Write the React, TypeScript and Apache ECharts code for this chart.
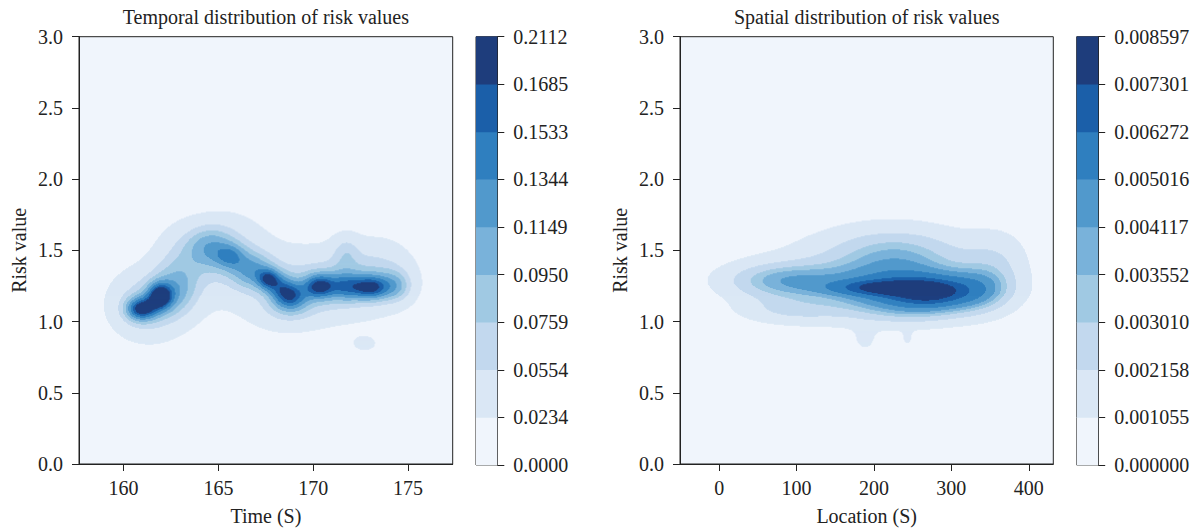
import React, { useEffect, useRef } from "react";
import * as echarts from "echarts";

// ---------- data ----------
const temporalLevels = [0, 0.0234, 0.0554, 0.0759, 0.095, 0.1149, 0.1344, 0.1533, 0.1685, 0.2112];
const temporalLevelLabels = ["0.0000", "0.0234", "0.0554", "0.0759", "0.0950", "0.1149", "0.1344", "0.1533", "0.1685", "0.2112"];
const spatialLevels = [0, 0.001055, 0.002158, 0.00301, 0.003552, 0.004117, 0.005016, 0.006272, 0.007301, 0.008597];
const spatialLevelLabels = ["0.000000", "0.001055", "0.002158", "0.003010", "0.003552", "0.004117", "0.005016", "0.006272", "0.007301", "0.008597"];

const riskTicks = [0, 0.5, 1.0, 1.5, 2.0, 2.5, 3.0];
const timeTicks = [160, 165, 170, 175];
const locationTicks = [0, 100, 200, 300, 400];

// kernel-density components (centre x, centre y, peak density, spread x, spread y)
const temporalCx = [168, 161.2, 160.9, 161.9, 162.8, 162.9, 164.5, 165.6, 166.8, 167.6, 168.2, 168.8, 170.3, 171.6, 173.0, 174.4, 165.5, 170.5, 173.5, 168.5, 171.7, 172.7];
const temporalCy = [1.28, 1.11, 1.09, 1.18, 1.22, 1.4, 1.53, 1.46, 1.36, 1.3, 1.25, 1.18, 1.25, 1.25, 1.24, 1.25, 1.5, 1.25, 1.35, 1.08, 1.5, 0.845];
const temporalPeak = [0.022, 0.07, 0.11, 0.11, 0.04, 0.04, 0.06, 0.05, 0.07, 0.075, 0.05, 0.085, 0.1, 0.065, 0.105, 0.05, 0.045, 0.055, 0.04, 0.03, 0.035, 0.028];
const temporalSx = [5, 1.4, 0.55, 0.45, 0.8, 1.0, 0.9, 0.55, 0.8, 0.4, 0.5, 0.6, 0.55, 0.6, 0.7, 0.6, 1.4, 2.2, 1.3, 1.2, 0.5, 0.55];
const temporalSy = [0.28, 0.17, 0.055, 0.065, 0.12, 0.2, 0.11, 0.06, 0.09, 0.05, 0.07, 0.07, 0.06, 0.07, 0.06, 0.08, 0.19, 0.16, 0.17, 0.1, 0.09, 0.045];

const spatialCx = [190, 250, 275, 205, 80, 90, 335, 230, 360, 250, 188, 243];
const spatialCy = [1.3, 1.21, 1.2, 1.24, 1.29, 1.08, 1.22, 1.45, 1.42, 1.05, 0.86, 0.87];
const spatialPeak = [0.0016, 0.0042, 0.0024, 0.0025, 0.0028, 0.0014, 0.0018, 0.0025, 0.0013, 0.001, 0.0008, 0.0007];
const spatialSx = [125, 65, 32, 45, 55, 50, 30, 65, 30, 60, 12, 6];
const spatialSy = [0.27, 0.1, 0.07, 0.035, 0.09, 0.07, 0.11, 0.16, 0.18, 0.07, 0.07, 0.05];

const levelColors = ["#f0f5fc", "#dae7f5", "#c2d8ee", "#a0c9e3", "#79b2da", "#5199cc", "#2f7fbf", "#1b5fa9", "#1e3d7c"];

// ---------- layout ----------
const W = 1197;
const H = 531;
const FONT = "Liberation Serif";
const TXT = "#222222";
const FS = 20;
const plotTop = 36.7;
const plotH = 428.3;
const leftGrid = { left: 79, width: 373.7 };
const leftBar = { left: 476, width: 21.3 };
const rightGrid = { left: 680, width: 373.3 };
const rightBar = { left: 1076.7, width: 21.5 };
const temporalX = [157.65, 177.35];
const spatialX = [-50.6, 431.7];

type Comp = { cx: number[]; cy: number[]; a: number[]; sx: number[]; sy: number[] };

function field(c: Comp, x: number, y: number) {
  let v = 0;
  for (let k = 0; k < c.cx.length; k++) {
    const dx = (x - c.cx[k]) / c.sx[k];
    const dy = (y - c.cy[k]) / c.sy[k];
    v += c.a[k] * Math.exp(-0.5 * (dx * dx + dy * dy));
  }
  return v;
}

function buildRuns(c: Comp, levels: number[], xr: number[], nx: number, ny: number) {
  const yMin = 0, yMax = 3;
  const dx = (xr[1] - xr[0]) / nx;
  const dy = (yMax - yMin) / ny;
  const lv = new Uint8Array(nx * ny);
  for (let j = 0; j < ny; j++) {
    const y = yMin + (j + 0.5) * dy;
    for (let i = 0; i < nx; i++) {
      const x = xr[0] + (i + 0.5) * dx;
      const v = field(c, x, y);
      let L = 0;
      for (let k = 1; k < levels.length - 1; k++) if (v >= levels[k]) L = k;
      lv[j * nx + i] = L;
    }
  }
  const runs: number[][] = [];
  for (let L = 1; L < levels.length - 1; L++) {
    for (let j = 0; j < ny; j++) {
      let i = 0;
      while (i < nx) {
        if (lv[j * nx + i] >= L) {
          const s = i;
          while (i < nx && lv[j * nx + i] >= L) i++;
          runs.push([xr[0] + s * dx, xr[0] + i * dx, yMin + (j + 0.5) * dy, L]);
        } else i++;
      }
    }
  }
  return { runs, dy };
}

function contourSeries(idx: number, runs: number[][], dy: number) {
  return {
    type: "custom",
    xAxisIndex: idx,
    yAxisIndex: idx,
    silent: true,
    clip: true,
    progressive: 0,
    encode: { x: [0, 1], y: 2 },
    data: runs,
    renderItem: (_p: any, api: any) => {
      const p0 = api.coord([api.value(0), api.value(2) + dy / 2]);
      const p1 = api.coord([api.value(1), api.value(2) - dy / 2]);
      return {
        type: "rect",
        shape: { x: p0[0], y: p0[1], width: p1[0] - p0[0] + 0.6, height: p1[1] - p0[1] + 0.6 },
        style: { fill: levelColors[api.value(3)] },
      };
    },
  };
}

function barSeries(idx: number) {
  const d = levelColors.map((_, i) => [i]);
  return {
    type: "custom",
    xAxisIndex: idx,
    yAxisIndex: idx,
    silent: true,
    encode: { y: 0 },
    data: d,
    renderItem: (_p: any, api: any) => {
      const i = api.value(0);
      const p0 = api.coord([0, i + 1]);
      const p1 = api.coord([1, i]);
      return {
        type: "rect",
        shape: { x: p0[0], y: p0[1] - 0.3, width: p1[0] - p0[0], height: p1[1] - p0[1] + 0.6 },
        style: { fill: levelColors[i] },
      };
    },
  };
}

const textStyle = { color: TXT, fontFamily: FONT, fontSize: FS };
const lineStyle = { color: TXT, width: 1 };

function mainX(idx: number, range: number[], ticks: number[], name: string) {
  return {
    type: "value",
    gridIndex: idx,
    min: range[0],
    max: range[1],
    name,
    nameLocation: "middle",
    nameGap: 42,
    nameTextStyle: textStyle,
    axisLine: { show: true, onZero: false, lineStyle },
    axisTick: { show: true, length: 7, inside: false, customValues: ticks, lineStyle },
    axisLabel: { customValues: ticks, margin: 14, ...textStyle, formatter: (v: number) => String(v) },
    splitLine: { show: false },
  };
}

function mainY(idx: number) {
  return {
    type: "value",
    gridIndex: idx,
    min: 0,
    max: 3,
    interval: 0.5,
    name: "Risk value",
    nameLocation: "middle",
    nameGap: 50,
    nameTextStyle: textStyle,
    axisLine: { show: true, onZero: false, lineStyle },
    axisTick: { show: true, length: 7, lineStyle, customValues: riskTicks },
    axisLabel: { margin: 16, ...textStyle, customValues: riskTicks, formatter: (v: number) => v.toFixed(1) },
    splitLine: { show: false },
  };
}

function barX(idx: number) {
  return { type: "value", gridIndex: idx, min: 0, max: 1, show: false };
}

function barY(idx: number, labels: string[]) {
  return {
    type: "value",
    gridIndex: idx,
    position: "right",
    min: 0,
    max: 9,
    interval: 1,
    axisLine: { show: true, onZero: false, lineStyle },
    axisTick: { show: true, length: 7, lineStyle },
    axisLabel: { margin: 16, ...textStyle, formatter: (v: number) => labels[Math.round(v)] },
    splitLine: { show: false },
  };
}

export default function App() {
  const ref = useRef<HTMLDivElement>(null);
  useEffect(() => {
    if (!ref.current) return;
    const chart = echarts.init(ref.current, null, { renderer: "svg" });
    const t = buildRuns(
      { cx: temporalCx, cy: temporalCy, a: temporalPeak, sx: temporalSx, sy: temporalSy },
      temporalLevels, temporalX, 374, 428
    );
    const s = buildRuns(
      { cx: spatialCx, cy: spatialCy, a: spatialPeak, sx: spatialSx, sy: spatialSy },
      spatialLevels, spatialX, 374, 428
    );
    const gridBase = { top: plotTop, height: plotH, show: true, borderColor: TXT, borderWidth: 1, containLabel: false };
    chart.setOption({
      animation: false,
      backgroundColor: "#ffffff",
      grid: [
        { ...gridBase, ...leftGrid, backgroundColor: levelColors[0] },
        { ...gridBase, ...leftBar, backgroundColor: "transparent" },
        { ...gridBase, ...rightGrid, backgroundColor: levelColors[0] },
        { ...gridBase, ...rightBar, backgroundColor: "transparent" },
      ],
      xAxis: [
        mainX(0, temporalX, timeTicks, "Time (S)"),
        barX(1),
        mainX(2, spatialX, locationTicks, "Location (S)"),
        barX(3),
      ],
      yAxis: [mainY(0), barY(1, temporalLevelLabels), mainY(2), barY(3, spatialLevelLabels)],
      series: [
        contourSeries(0, t.runs, t.dy),
        barSeries(1),
        contourSeries(2, s.runs, s.dy),
        barSeries(3),
      ],
      graphic: [
        {
          type: "text",
          x: leftGrid.left + leftGrid.width / 2,
          y: 17,
          style: { text: "Temporal distribution of risk values", align: "center", verticalAlign: "middle", fill: TXT, font: `${FS}px '${FONT}'` },
        },
        {
          type: "text",
          x: rightGrid.left + rightGrid.width / 2,
          y: 17,
          style: { text: "Spatial distribution of risk values", align: "center", verticalAlign: "middle", fill: TXT, font: `${FS}px '${FONT}'` },
        },
      ],
    });
    return () => chart.dispose();
  }, []);
  return <div ref={ref} style={{ position: "fixed", left: 0, top: 0, width: W, height: H }} />;
}
